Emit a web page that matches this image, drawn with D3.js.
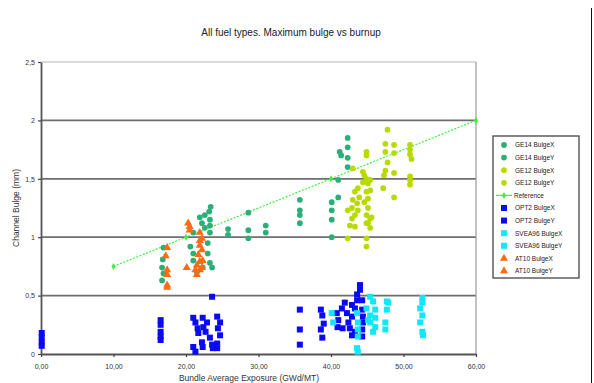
<!DOCTYPE html>
<html>
<head>
<meta charset="utf-8">
<script src="https://cdn.jsdelivr.net/npm/d3@7"></script>
<style>
  html, body { margin: 0; padding: 0; background: #fff; }
  svg { display: block; font-family: "Liberation Sans", Arial, sans-serif; }
</style>
</head>
<body>
<svg id="chart" width="594" height="383"></svg>
<script>
// Maximum channel bulge (mm) vs bundle average exposure (GWd/MT), one array per fuel type and direction
const ge14BulgeX = [[16.9,0.91],[16.7,0.74],[21.9,1.17],[23.4,1.26],[22.2,1.12],[22.6,1.08],[21.0,1.04],[23.0,0.95],[21.0,0.86],[23.3,0.78],[23.6,0.74],[21.5,0.70],[25.8,1.07],[28.6,1.21],[28.6,0.99],[35.7,1.32],[35.7,1.19],[40.1,1.30],[40.1,1.15],[41.0,1.49],[42.3,1.85],[41.2,1.73],[42.3,1.68]];
const ge14BulgeY = [[16.8,0.81],[16.9,0.69],[16.7,0.63],[23.2,1.22],[22.6,1.19],[23.3,1.15],[23.3,1.10],[23.3,1.04],[20.6,0.92],[23.0,0.86],[21.0,0.80],[22.3,0.74],[25.8,1.02],[28.6,1.06],[31.0,1.10],[31.0,1.04],[35.7,1.23],[35.7,1.12],[40.1,1.23],[40.1,1.00],[41.0,1.34],[42.3,1.77],[41.4,1.70],[42.3,1.60]];
const ge12BulgeX = [[43.0,1.59],[44.4,1.56],[44.9,1.50],[43.7,1.42],[43.3,1.39],[43.9,1.34],[43.0,1.32],[44.6,1.30],[42.9,1.25],[42.3,1.23],[44.9,1.19],[42.9,1.16],[44.9,1.12],[42.6,1.10],[45.4,1.08],[42.3,0.99],[44.9,0.92],[44.9,1.73],[47.8,1.92],[48.7,1.79],[47.5,1.73],[47.8,1.64],[47.3,1.53],[47.2,1.42],[50.9,1.79],[50.9,1.71],[50.9,1.52],[50.9,1.45]];
const ge12BulgeY = [[44.6,1.53],[45.4,1.49],[44.4,1.47],[45.1,1.46],[45.4,1.40],[44.9,1.39],[45.1,1.33],[43.6,1.29],[43.7,1.23],[45.1,1.25],[43.3,1.19],[45.4,1.16],[45.1,1.12],[43.3,1.09],[45.6,1.17],[44.9,0.99],[44.9,1.70],[47.5,1.80],[48.7,1.72],[47.5,1.57],[48.7,1.55],[48.7,1.34],[50.9,1.75],[51.1,1.67],[50.9,1.49]];
const referenceLine = [[10,0.75],[20,1.0],[40,1.5],[60,2.0]];
const opt2BulgeX = [[0.1,0.18],[0.1,0.10],[16.5,0.29],[16.5,0.19],[16.5,0.12],[23.6,0.49],[21.0,0.31],[21.6,0.22],[22.3,0.31],[22.4,0.23],[23.3,0.14],[24.3,0.32],[24.4,0.22],[24.3,0.09],[21.0,0.06],[22.2,0.10],[23.7,0.05],[35.7,0.38],[35.7,0.08],[38.6,0.38],[39.0,0.26],[38.8,0.14],[44.0,0.59],[43.6,0.51],[43.6,0.46],[41.9,0.44],[41.5,0.39],[44.3,0.38],[40.8,0.35],[42.9,0.32],[41.0,0.29],[44.4,0.27],[40.9,0.23],[42.6,0.22],[42.9,0.16]];
const opt2BulgeY = [[0.1,0.14],[0.1,0.07],[16.5,0.25],[16.5,0.15],[21.3,0.27],[21.7,0.18],[22.9,0.27],[22.7,0.19],[23.6,0.08],[24.7,0.27],[24.7,0.16],[24.3,0.05],[21.3,0.02],[22.3,0.06],[35.7,0.21],[38.8,0.33],[38.6,0.21],[44.0,0.55],[44.3,0.46],[42.9,0.42],[43.3,0.39],[42.2,0.35],[44.4,0.32],[42.4,0.27],[44.3,0.21],[41.6,0.22],[43.3,0.19],[44.3,0.15]];
const svea96BulgeX = [[40.1,0.35],[43.6,0.35],[43.7,0.21],[43.6,0.05],[45.4,0.49],[44.9,0.39],[45.4,0.33],[45.4,0.27],[45.8,0.19],[47.7,0.45],[47.7,0.38],[47.5,0.21],[52.6,0.48],[52.3,0.39],[52.3,0.27],[52.7,0.16]];
const svea96BulgeY = [[40.3,0.27],[43.7,0.27],[43.7,0.15],[43.7,0.02],[45.8,0.45],[46.1,0.38],[46.1,0.31],[46.1,0.23],[45.1,0.29],[47.9,0.44],[47.5,0.27],[52.6,0.44],[52.6,0.33],[52.6,0.19]];
const at10BulgeX = [[17.4,0.91],[17.4,0.72],[17.4,0.59],[20.3,1.12],[20.5,1.06],[21.9,1.04],[21.9,0.93],[21.9,0.79],[21.3,0.72],[22.2,0.74],[21.5,0.68]];
const at10BulgeY = [[17.2,0.84],[17.4,0.68],[17.4,0.57],[20.5,1.09],[20.1,0.74],[22.2,0.99],[21.9,0.97],[21.7,0.85],[21.5,0.76],[21.9,0.72],[22.3,0.80],[22.2,0.89]];

const xTicks = [0, 10, 20, 30, 40, 50, 60];
const yTicks = [0, 0.5, 1, 1.5, 2, 2.5];

const locale = d3.formatLocale({ decimal: ",", thousands: ".", grouping: [3], currency: ["", ""] });
const fmtX = locale.format(".2f");
const fmtY = locale.format("");

const svg = d3.select("#chart");
const x = d3.scaleLinear().domain([0, 60]).range([41, 476]);
const y = d3.scaleLinear().domain([0, 2.5]).range([354, 62]);

const colors = {
  ge14: "#2cae78",
  ge12: "#b9da00",
  ref: "#3cf03c",
  opt2: "#0a0af5",
  svea: "#12e6f8",
  at10: "#ff6a12"
};

// outer frame line on the right
svg.append("line").attr("x1", 591.5).attr("x2", 591.5).attr("y1", 8).attr("y2", 383)
  .attr("stroke", "#111").attr("stroke-width", 1);

// title
svg.append("text").attr("x", 291).attr("y", 36).attr("text-anchor", "middle")
  .attr("font-size", 10).attr("fill", "#222").text("All fuel types. Maximum bulge vs burnup");

// horizontal gridlines
svg.append("g").selectAll("line").data(yTicks.filter(d => d > 0)).join("line")
  .attr("x1", x(0)).attr("x2", x(60))
  .attr("y1", d => y(d)).attr("y2", d => y(d))
  .attr("stroke", d => d === 2.5 ? "#b8b8c0" : "#6e6e72")
  .attr("stroke-width", d => d === 2.5 ? 1.2 : 1.8);

// right border of plot area
svg.append("line").attr("x1", x(60)).attr("x2", x(60)).attr("y1", y(2.5)).attr("y2", y(0))
  .attr("stroke", "#9a9a9a").attr("stroke-width", 1.2);

// axes
const xAxis = svg.append("g").attr("transform", `translate(0,${y(0)})`)
  .call(d3.axisBottom(x).tickValues(xTicks).tickFormat(fmtX).tickSize(3).tickSizeOuter(0));
const yAxis = svg.append("g").attr("transform", `translate(${x(0)},0)`)
  .call(d3.axisLeft(y).tickValues(yTicks).tickFormat(fmtY).tickSize(3).tickSizeOuter(0));
[xAxis, yAxis].forEach(g => {
  g.select(".domain").attr("stroke", "#555").attr("stroke-width", 1.8);
  g.selectAll(".tick line").attr("stroke", "#444").attr("stroke-width", 1.2);
  g.selectAll(".tick text").attr("font-size", 7).attr("fill", "#333")
    .attr("font-family", "Liberation Sans, Arial, sans-serif");
});
xAxis.selectAll(".tick text").attr("dy", "1.3em");

// axis titles
svg.append("text").attr("transform", "translate(19,208) rotate(-90)").attr("text-anchor", "middle")
  .attr("font-size", 8.5).attr("fill", "#333").text("Channel Bulge (mm)");
svg.append("text").attr("x", 249).attr("y", 381).attr("text-anchor", "middle")
  .attr("font-size", 8.5).attr("fill", "#333").text("Bundle Average Exposure (GWd/MT)");

// reference line
svg.append("path").datum(referenceLine)
  .attr("d", d3.line().x(d => x(d[0])).y(d => y(d[1])))
  .attr("fill", "none").attr("stroke", colors.ref).attr("stroke-width", 1.2)
  .attr("stroke-dasharray", "2,1.5");
svg.append("g").selectAll("path").data(referenceLine).join("path")
  .attr("transform", d => `translate(${x(d[0])},${y(d[1])})`)
  .attr("d", d3.symbol(d3.symbolDiamond, 14)()).attr("fill", colors.ref);

const series = [
  { name: "GE14 BulgeX", data: ge14BulgeX, color: colors.ge14, shape: d3.symbolCircle, size: 26 },
  { name: "GE14 BulgeY", data: ge14BulgeY, color: colors.ge14, shape: d3.symbolCircle, size: 26 },
  { name: "GE12 BulgeX", data: ge12BulgeX, color: colors.ge12, shape: d3.symbolCircle, size: 26 },
  { name: "GE12 BulgeY", data: ge12BulgeY, color: colors.ge12, shape: d3.symbolCircle, size: 26 },
  { name: "Reference", line: true, color: colors.ref },
  { name: "OPT2 BulgeX", data: opt2BulgeX, color: colors.opt2, shape: d3.symbolSquare, size: 36 },
  { name: "OPT2 BulgeY", data: opt2BulgeY, color: colors.opt2, shape: d3.symbolSquare, size: 36 },
  { name: "SVEA96 BulgeX", data: svea96BulgeX, color: colors.svea, shape: d3.symbolSquare, size: 36 },
  { name: "SVEA96 BulgeY", data: svea96BulgeY, color: colors.svea, shape: d3.symbolSquare, size: 36 },
  { name: "AT10 BulgeX", data: at10BulgeX, color: colors.at10, shape: d3.symbolTriangle, size: 28 },
  { name: "AT10 BulgeY", data: at10BulgeY, color: colors.at10, shape: d3.symbolTriangle, size: 28 }
];

// scatter points (drawing order: blue/cyan first, then green, orange on top)
const drawOrder = [5, 6, 7, 8, 0, 1, 2, 3, 9, 10];
drawOrder.forEach(i => {
  const s = series[i];
  svg.append("g").selectAll("path").data(s.data).join("path")
    .attr("transform", d => `translate(${x(d[0])},${y(d[1])})`)
    .attr("d", d3.symbol(s.shape, s.size)())
    .attr("fill", s.color);
});

// legend
const lg = svg.append("g").attr("transform", "translate(493,136)");
lg.append("rect").attr("x", 0).attr("y", 0).attr("width", 86).attr("height", 142)
  .attr("fill", "#fff").attr("stroke", "#444").attr("stroke-width", 1.3);
series.forEach((s, i) => {
  const cy = 9 + i * 12.6;
  if (s.line) {
    lg.append("line").attr("x1", 3).attr("x2", 19).attr("y1", cy).attr("y2", cy)
      .attr("stroke", s.color).attr("stroke-width", 1.2);
    lg.append("path").attr("transform", `translate(11,${cy})`)
      .attr("d", d3.symbol(d3.symbolDiamond, 14)()).attr("fill", s.color);
  } else {
    lg.append("path").attr("transform", `translate(11,${cy})`)
      .attr("d", d3.symbol(s.shape, s.size)()).attr("fill", s.color);
  }
  lg.append("text").attr("x", s.line ? 21 : 22).attr("y", cy + 2.3)
    .attr("font-size", 6.5).attr("fill", "#222").text(s.name);
});
</script>
</body>
</html>
